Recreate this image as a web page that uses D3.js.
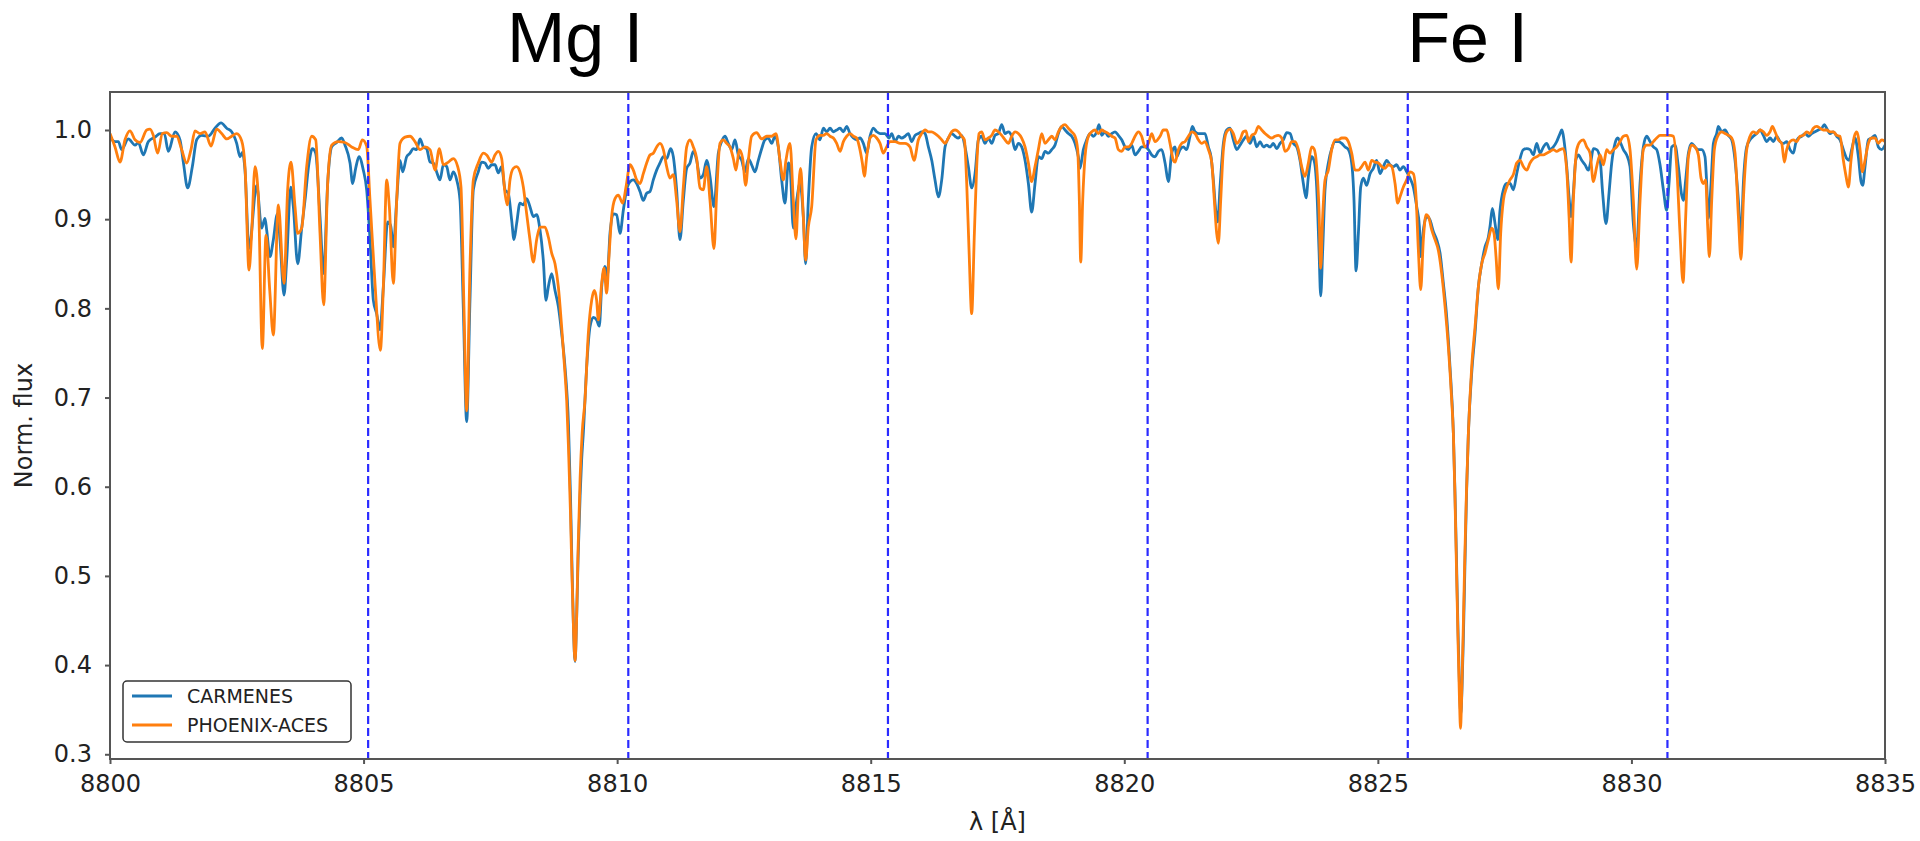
<!DOCTYPE html>
<html><head><meta charset="utf-8">
<script src="https://cdn.jsdelivr.net/npm/d3@7"></script>
<style>body{margin:0;background:#fff} svg{display:block}</style>
</head><body>
<svg id="chart" width="1920" height="841"></svg>
<script>
const xTicks = [8800,8805,8810,8815,8820,8825,8830,8835];
const yTicks = [0.3,0.4,0.5,0.6,0.7,0.8,0.9,1.0];
const markerLines = [8805.09,8810.22,8815.34,8820.46,8825.59,8830.71];
const lineLabels = [{text:"Mg I", lambda:8809.17},{text:"Fe I", lambda:8826.77}];
const seriesNames = ["CARMENES","PHOENIX-ACES"];

const carmenes = [
[8800.000,0.991],[8800.099,0.987],[8800.164,0.987],[8800.230,0.978],[8800.362,0.990],[8800.493,0.983],[8800.559,0.986],[8800.657,0.972],[8800.756,0.987],[8800.887,0.992],[8800.986,0.996],[8801.071,0.996],[8801.150,0.976],[8801.282,0.998],[8801.380,0.989],[8801.446,0.964],[8801.531,0.935],[8801.624,0.959],[8801.709,0.989],[8801.808,0.994],[8801.939,0.993],[8802.070,1.002],[8802.189,1.008],[8802.301,1.002],[8802.399,0.998],[8802.498,0.985],[8802.563,0.970],[8802.610,0.975],[8802.662,0.955],[8802.741,0.867],[8802.892,0.938],[8802.991,0.890],[8803.056,0.901],[8803.089,0.888],[8803.155,0.858],[8803.221,0.877],[8803.300,0.906],[8803.352,0.877],[8803.431,0.815],[8803.484,0.854],[8803.563,0.936],[8803.615,0.914],[8803.701,0.850],[8803.780,0.890],[8803.845,0.921],[8803.924,0.963],[8803.990,0.979],[8804.056,0.974],[8804.141,0.903],[8804.213,0.839],[8804.292,0.940],[8804.371,0.981],[8804.470,0.986],[8804.568,0.991],[8804.634,0.983],[8804.733,0.963],[8804.785,0.940],[8804.844,0.957],[8804.910,0.970],[8804.995,0.955],[8805.061,0.933],[8805.127,0.877],[8805.193,0.809],[8805.258,0.794],[8805.324,0.776],[8805.390,0.824],[8805.475,0.897],[8805.534,0.893],[8805.587,0.869],[8805.653,0.921],[8805.718,0.966],[8805.771,0.953],[8805.850,0.970],[8805.916,0.974],[8805.981,0.979],[8806.047,0.978],[8806.113,0.990],[8806.179,0.981],[8806.244,0.979],[8806.310,0.964],[8806.376,0.963],[8806.441,0.953],[8806.507,0.944],[8806.573,0.961],[8806.639,0.959],[8806.704,0.944],[8806.770,0.953],[8806.836,0.944],[8806.902,0.921],[8806.967,0.800],[8807.033,0.673],[8807.098,0.809],[8807.164,0.933],[8807.262,0.953],[8807.328,0.964],[8807.394,0.963],[8807.460,0.957],[8807.526,0.961],[8807.591,0.961],[8807.657,0.952],[8807.723,0.959],[8807.789,0.933],[8807.854,0.929],[8807.920,0.899],[8807.966,0.877],[8808.018,0.895],[8808.084,0.918],[8808.150,0.916],[8808.216,0.923],[8808.281,0.914],[8808.347,0.903],[8808.413,0.905],[8808.479,0.888],[8808.544,0.854],[8808.597,0.809],[8808.643,0.824],[8808.709,0.839],[8808.775,0.820],[8808.841,0.802],[8808.906,0.772],[8808.972,0.734],[8809.040,0.670],[8809.080,0.590],[8809.110,0.510],[8809.140,0.440],[8809.170,0.404],[8809.200,0.450],[8809.230,0.520],[8809.270,0.590],[8809.300,0.630],[8809.333,0.660],[8809.399,0.734],[8809.464,0.779],[8809.530,0.790],[8809.596,0.787],[8809.648,0.780],[8809.695,0.824],[8809.760,0.847],[8809.806,0.836],[8809.859,0.884],[8809.925,0.906],[8809.990,0.905],[8810.056,0.884],[8810.122,0.910],[8810.188,0.933],[8810.253,0.942],[8810.319,0.944],[8810.385,0.940],[8810.451,0.931],[8810.516,0.921],[8810.582,0.929],[8810.648,0.931],[8810.713,0.944],[8810.779,0.955],[8810.845,0.963],[8810.911,0.970],[8810.976,0.968],[8811.055,0.979],[8811.108,0.970],[8811.173,0.933],[8811.239,0.877],[8811.305,0.921],[8811.371,0.957],[8811.436,0.963],[8811.502,0.976],[8811.568,0.966],[8811.634,0.946],[8811.699,0.950],[8811.765,0.966],[8811.831,0.948],[8811.910,0.914],[8811.995,0.974],[8812.061,0.987],[8812.126,0.993],[8812.192,0.985],[8812.258,0.978],[8812.324,0.989],[8812.389,0.972],[8812.455,0.966],[8812.521,0.953],[8812.587,0.968],[8812.652,0.961],[8812.718,0.953],[8812.784,0.966],[8812.850,0.979],[8812.915,0.989],[8812.981,0.991],[8813.047,0.985],[8813.113,0.993],[8813.178,0.981],[8813.244,0.944],[8813.310,0.918],[8813.376,0.963],[8813.408,0.959],[8813.474,0.890],[8813.540,0.921],[8813.605,0.940],[8813.671,0.903],[8813.717,0.850],[8813.770,0.921],[8813.836,0.981],[8813.921,0.996],[8814.000,0.989],
[8814.066,1.002],[8814.132,0.998],[8814.198,1.002],[8814.264,0.998],[8814.329,1.000],[8814.395,1.002],[8814.461,0.998],[8814.526,1.004],[8814.592,0.996],[8814.658,0.991],[8814.724,0.989],[8814.789,0.991],[8814.855,0.985],[8814.921,0.974],[8814.987,0.993],[8815.052,1.002],[8815.118,0.998],[8815.184,0.996],[8815.282,0.996],[8815.361,0.991],[8815.414,0.996],[8815.480,0.987],[8815.545,0.993],[8815.611,0.991],[8815.677,0.993],[8815.742,0.996],[8815.808,0.987],[8815.874,0.994],[8815.940,0.996],[8816.005,0.998],[8816.071,0.996],[8816.137,0.981],[8816.203,0.966],[8816.268,0.944],[8816.334,0.925],[8816.400,0.944],[8816.465,0.981],[8816.531,0.991],[8816.597,0.996],[8816.663,0.993],[8816.728,0.991],[8816.794,0.994],[8816.860,0.981],[8816.925,0.959],[8816.991,0.935],[8817.057,0.951],[8817.123,0.989],[8817.188,0.993],[8817.254,0.985],[8817.320,0.991],[8817.386,0.985],[8817.451,0.994],[8817.517,0.996],[8817.583,1.006],[8817.649,0.996],[8817.714,0.998],[8817.780,0.993],[8817.846,0.978],[8817.911,0.985],[8817.977,0.981],[8818.043,0.966],[8818.109,0.940],[8818.174,0.908],[8818.240,0.940],[8818.306,0.970],[8818.372,0.968],[8818.437,0.976],[8818.503,0.974],[8818.569,0.978],[8818.634,0.983],[8818.700,0.996],[8818.766,1.004],[8818.832,1.000],[8818.897,0.996],[8818.963,0.993],[8819.029,0.985],[8819.094,0.970],[8819.127,0.957],[8819.193,0.978],[8819.259,0.989],[8819.325,0.996],[8819.391,0.993],[8819.456,0.998],[8819.502,1.006],[8819.555,0.994],[8819.620,0.998],[8819.686,0.993],[8819.752,0.996],[8819.818,0.998],[8819.883,0.994],[8819.949,0.989],[8820.015,0.981],[8820.080,0.978],[8820.146,0.983],[8820.212,0.972],[8820.278,0.976],[8820.343,0.981],[8820.409,0.981],[8820.475,0.978],[8820.541,0.972],[8820.606,0.970],[8820.672,0.976],[8820.738,0.978],[8820.804,0.963],[8820.869,0.942],[8820.935,0.974],[8821.001,0.981],
[8821.033,0.970],[8821.099,0.978],[8821.165,0.981],[8821.231,0.978],[8821.296,0.993],[8821.342,1.004],[8821.395,0.998],[8821.461,0.996],[8821.526,0.996],[8821.592,0.996],[8821.658,0.981],[8821.710,0.970],[8821.756,0.944],[8821.803,0.910],[8821.842,0.897],[8821.888,0.936],[8821.954,0.985],[8822.019,1.000],[8822.085,1.002],[8822.151,0.989],[8822.217,0.978],[8822.282,0.983],[8822.348,0.989],[8822.414,0.993],[8822.480,0.985],[8822.545,0.993],[8822.611,0.981],[8822.677,0.987],[8822.742,0.981],[8822.808,0.983],[8822.874,0.981],[8822.940,0.985],[8823.005,0.979],[8823.071,0.985],[8823.137,0.989],[8823.203,0.997],[8823.268,0.996],[8823.334,0.985],[8823.400,0.981],[8823.465,0.966],[8823.531,0.940],[8823.584,0.924],[8823.630,0.948],[8823.695,0.970],[8823.741,0.966],[8823.794,0.936],[8823.840,0.865],[8823.873,0.814],[8823.912,0.865],[8823.958,0.933],[8824.024,0.963],[8824.090,0.979],[8824.155,0.987],[8824.221,0.987],[8824.287,0.985],[8824.353,0.981],[8824.418,0.978],[8824.484,0.963],[8824.530,0.921],[8824.570,0.842],[8824.616,0.884],[8824.662,0.936],[8824.714,0.946],[8824.780,0.938],[8824.846,0.951],[8824.911,0.957],[8824.977,0.966],[8825.043,0.951],[8825.109,0.959],[8825.174,0.966],[8825.240,0.961],[8825.306,0.959],[8825.371,0.961],[8825.437,0.955],[8825.503,0.959],[8825.569,0.953],[8825.634,0.946],[8825.700,0.936],[8825.766,0.914],[8825.819,0.892],[8825.845,0.858],[8825.897,0.888],[8825.963,0.903],[8826.029,0.899],[8826.095,0.886],[8826.160,0.877],[8826.226,0.862],[8826.292,0.828],[8826.358,0.790],[8826.423,0.734],[8826.489,0.660],[8826.520,0.595],[8826.550,0.520],[8826.580,0.440],[8826.610,0.375],[8826.635,0.345],[8826.660,0.375],[8826.690,0.440],[8826.720,0.520],[8826.750,0.595],[8826.785,0.660],[8826.850,0.727],[8826.916,0.772],[8826.982,0.824],[8827.048,0.850],[8827.113,0.869],[8827.179,0.880],[8827.212,0.892],[8827.258,0.912],[8827.311,0.895],[8827.363,0.877],[8827.409,0.910],[8827.475,0.933],[8827.541,0.940],[8827.606,0.940],[8827.672,0.933],[8827.738,0.951],[8827.804,0.968],[8827.869,0.978],[8827.935,0.979],[8828.001,0.978],
[8828.066,0.972],[8828.132,0.985],[8828.198,0.974],[8828.264,0.981],[8828.329,0.985],[8828.395,0.978],[8828.461,0.981],[8828.526,0.987],[8828.592,0.996],[8828.625,1.000],[8828.678,0.985],[8828.724,0.959],[8828.770,0.925],[8828.809,0.903],[8828.855,0.929],[8828.901,0.966],[8828.954,0.972],[8829.019,0.966],[8829.085,0.961],[8829.151,0.955],[8829.203,0.966],[8829.249,0.979],[8829.315,0.978],[8829.381,0.968],[8829.433,0.929],[8829.499,0.895],[8829.558,0.929],[8829.611,0.963],[8829.677,0.985],[8829.729,0.991],[8829.775,0.987],[8829.841,0.978],[8829.907,0.972],[8829.972,0.959],[8830.038,0.895],[8830.104,0.869],[8830.170,0.940],[8830.235,0.981],[8830.301,0.993],[8830.367,0.987],[8830.433,0.981],[8830.498,0.978],[8830.564,0.961],[8830.630,0.933],[8830.695,0.910],[8830.741,0.940],[8830.794,0.981],[8830.860,0.983],[8830.925,0.959],[8830.991,0.927],[8831.024,0.921],[8831.070,0.944],[8831.123,0.974],[8831.188,0.985],[8831.254,0.981],[8831.320,0.978],[8831.386,0.978],[8831.451,0.970],[8831.484,0.940],[8831.517,0.901],[8831.570,0.940],[8831.616,0.985],[8831.681,0.996],[8831.714,1.004],[8831.780,0.998],[8831.846,1.000],[8831.911,0.994],[8831.977,0.989],[8832.043,0.966],[8832.109,0.921],[8832.161,0.877],[8832.207,0.940],[8832.273,0.981],[8832.339,0.989],[8832.404,0.993],[8832.470,0.996],[8832.536,1.000],[8832.602,0.994],[8832.667,0.987],[8832.733,0.991],[8832.799,0.987],[8832.864,0.993],[8832.930,0.987],[8832.996,0.985],[8833.062,0.987],[8833.127,0.978],[8833.193,0.974],[8833.239,0.985],[8833.292,0.991],[8833.358,0.993],[8833.423,0.996],[8833.489,0.993],[8833.555,0.996],[8833.620,0.998],[8833.686,1.000],[8833.752,1.002],[8833.804,1.006],[8833.850,1.002],[8833.916,0.996],[8833.982,0.998],[8834.048,0.993],[8834.113,0.989],[8834.179,0.978],[8834.245,0.968],[8834.291,0.966],[8834.343,0.978],[8834.409,0.991],[8834.475,0.970],[8834.528,0.942],[8834.561,0.938],[8834.606,0.959],[8834.672,0.989],[8834.738,0.991],[8834.804,0.994],[8834.869,0.981],[8834.935,0.978],[8835.001,0.983]
];

const phoenix = [
[8800.000,0.996],[8800.099,0.981],[8800.197,0.964],[8800.296,0.989],[8800.394,0.999],[8800.493,0.989],[8800.592,0.986],[8800.723,1.000],[8800.789,1.001],[8800.854,0.994],[8800.940,0.974],[8801.032,0.996],[8801.117,0.997],[8801.216,0.993],[8801.315,0.993],[8801.413,0.978],[8801.512,0.963],[8801.597,0.978],[8801.676,0.999],[8801.775,0.996],[8801.873,0.998],[8801.992,0.982],[8802.103,1.001],[8802.202,0.996],[8802.301,0.990],[8802.399,0.993],[8802.498,0.996],[8802.596,0.988],[8802.662,0.959],[8802.741,0.843],[8802.793,0.884],[8802.859,0.959],[8802.925,0.925],[8803.004,0.755],[8803.076,0.882],[8803.150,0.820],[8803.221,0.770],[8803.319,0.916],[8803.431,0.828],[8803.503,0.933],[8803.569,0.964],[8803.648,0.914],[8803.701,0.884],[8803.780,0.890],[8803.878,0.959],[8803.977,0.993],[8804.056,0.989],[8804.141,0.884],[8804.213,0.804],[8804.292,0.940],[8804.371,0.983],[8804.502,0.987],[8804.634,0.986],[8804.765,0.981],[8804.897,0.978],[8804.976,0.989],[8805.061,0.982],[8805.127,0.921],[8805.225,0.828],[8805.331,0.753],[8805.390,0.824],[8805.456,0.944],[8805.508,0.914],[8805.587,0.828],[8805.653,0.921],[8805.718,0.985],[8805.817,0.992],[8805.916,0.993],[8806.014,0.987],[8806.113,0.978],[8806.211,0.981],[8806.310,0.978],[8806.409,0.955],[8806.494,0.979],[8806.573,0.961],[8806.672,0.964],[8806.770,0.968],[8806.856,0.959],[8806.921,0.936],[8806.980,0.800],[8807.033,0.685],[8807.098,0.846],[8807.164,0.944],[8807.262,0.963],[8807.361,0.974],[8807.427,0.972],[8807.526,0.964],[8807.591,0.972],[8807.657,0.976],[8807.723,0.968],[8807.789,0.929],[8807.834,0.916],[8807.887,0.944],[8807.953,0.957],[8808.018,0.959],[8808.084,0.953],[8808.150,0.936],[8808.216,0.906],[8808.281,0.877],[8808.347,0.852],[8808.413,0.877],[8808.479,0.891],[8808.577,0.891],[8808.643,0.880],[8808.709,0.862],[8808.775,0.850],[8808.841,0.824],[8808.906,0.779],[8808.972,0.727],[8809.005,0.697],[8809.040,0.645],[8809.080,0.570],[8809.110,0.500],[8809.140,0.440],[8809.170,0.405],[8809.200,0.450],[8809.230,0.530],[8809.270,0.610],[8809.310,0.660],[8809.366,0.697],[8809.432,0.772],[8809.498,0.809],[8809.550,0.820],[8809.596,0.809],[8809.629,0.787],[8809.695,0.828],[8809.741,0.845],[8809.793,0.817],[8809.839,0.858],[8809.892,0.903],[8809.958,0.923],[8810.023,0.927],[8810.109,0.918],[8810.175,0.936],[8810.253,0.961],[8810.319,0.955],[8810.385,0.944],[8810.451,0.940],[8810.516,0.951],[8810.582,0.963],[8810.648,0.972],[8810.713,0.974],[8810.779,0.981],[8810.845,0.985],[8810.911,0.978],[8810.976,0.959],[8811.042,0.946],[8811.108,0.950],[8811.173,0.921],[8811.239,0.886],[8811.305,0.936],[8811.371,0.981],[8811.436,0.989],[8811.502,0.981],[8811.568,0.968],[8811.634,0.935],[8811.699,0.933],[8811.765,0.959],[8811.831,0.921],[8811.910,0.867],[8811.962,0.929],[8812.028,0.985],[8812.094,0.989],[8812.159,0.985],[8812.225,0.981],[8812.291,0.968],[8812.343,0.955],[8812.409,0.978],[8812.475,0.968],[8812.534,0.938],[8812.587,0.966],[8812.652,0.993],[8812.751,0.997],[8812.850,0.990],[8812.948,0.993],[8813.047,0.993],[8813.132,0.996],[8813.211,0.966],[8813.277,0.944],[8813.329,0.966],[8813.408,0.985],[8813.474,0.921],[8813.526,0.878],[8813.572,0.929],[8813.618,0.957],[8813.671,0.903],[8813.717,0.854],[8813.770,0.891],[8813.836,0.914],[8813.921,0.989],[8814.000,0.994],
[8814.066,0.994],[8814.132,0.996],[8814.198,0.993],[8814.264,0.991],[8814.329,0.985],[8814.395,0.976],[8814.461,0.987],[8814.526,0.993],[8814.592,0.996],[8814.658,0.993],[8814.724,0.991],[8814.776,0.981],[8814.835,0.963],[8814.875,0.948],[8814.921,0.970],[8814.987,0.991],[8815.052,0.994],[8815.118,0.991],[8815.184,0.985],[8815.249,0.974],[8815.315,0.981],[8815.381,0.987],[8815.480,0.987],[8815.578,0.985],[8815.677,0.985],[8815.775,0.981],[8815.854,0.966],[8815.940,0.989],[8816.005,0.996],[8816.071,1.000],[8816.137,0.998],[8816.203,0.998],[8816.268,0.996],[8816.334,0.993],[8816.400,0.989],[8816.465,0.985],[8816.531,0.991],[8816.597,0.998],[8816.663,1.000],[8816.728,0.998],[8816.794,0.993],[8816.847,0.989],[8816.893,0.940],[8816.939,0.865],[8816.991,0.794],[8817.044,0.884],[8817.090,0.959],[8817.136,0.996],[8817.188,0.998],[8817.254,0.989],[8817.320,0.991],[8817.386,0.994],[8817.451,1.000],[8817.517,0.998],[8817.583,0.994],[8817.649,0.989],[8817.714,0.985],[8817.780,0.993],[8817.846,0.998],[8817.911,0.996],[8817.977,0.991],[8818.043,0.981],[8818.109,0.963],[8818.174,0.942],[8818.240,0.959],[8818.306,0.978],[8818.372,0.996],[8818.437,0.985],[8818.503,0.989],[8818.569,0.993],[8818.634,0.989],[8818.700,0.998],[8818.766,1.004],[8818.832,1.006],[8818.897,1.002],[8818.963,0.998],[8819.029,0.993],[8819.081,0.978],[8819.114,0.921],[8819.141,0.852],[8819.180,0.921],[8819.226,0.970],[8819.292,0.993],[8819.358,0.998],[8819.423,1.000],[8819.489,0.996],[8819.555,1.000],[8819.620,0.998],[8819.686,0.996],[8819.752,0.993],[8819.818,0.991],[8819.883,0.978],[8819.949,0.976],[8820.015,0.981],[8820.080,0.981],[8820.146,0.985],[8820.212,0.993],[8820.278,0.998],[8820.343,0.993],[8820.409,0.981],[8820.475,0.985],[8820.541,0.996],[8820.606,0.987],[8820.705,0.993],[8820.771,1.000],[8820.837,1.000],[8820.902,0.985],[8820.968,0.966],
[8821.001,0.964],[8821.066,0.978],[8821.132,0.985],[8821.198,0.987],[8821.264,0.993],[8821.329,0.998],[8821.395,0.996],[8821.461,0.989],[8821.526,0.985],[8821.592,0.987],[8821.658,0.978],[8821.724,0.964],[8821.776,0.921],[8821.822,0.884],[8821.855,0.873],[8821.901,0.921],[8821.954,0.978],[8822.019,0.998],[8822.085,1.001],[8822.151,0.996],[8822.217,0.985],[8822.282,0.989],[8822.348,0.998],[8822.401,0.999],[8822.447,0.987],[8822.512,0.994],[8822.578,0.996],[8822.644,1.004],[8822.710,1.000],[8822.775,0.996],[8822.841,0.993],[8822.907,0.991],[8822.972,0.993],[8823.038,0.994],[8823.104,0.991],[8823.170,0.976],[8823.235,0.979],[8823.301,0.987],[8823.367,0.987],[8823.433,0.978],[8823.498,0.959],[8823.564,0.948],[8823.630,0.963],[8823.695,0.981],[8823.741,0.979],[8823.794,0.959],[8823.840,0.910],[8823.873,0.845],[8823.912,0.903],[8823.958,0.944],[8824.024,0.955],[8824.090,0.978],[8824.155,0.989],[8824.221,0.989],[8824.287,0.991],[8824.353,0.991],[8824.418,0.987],[8824.484,0.974],[8824.550,0.955],[8824.616,0.955],[8824.681,0.959],[8824.747,0.964],[8824.813,0.955],[8824.879,0.966],[8824.944,0.964],[8825.010,0.963],[8825.076,0.959],[8825.141,0.957],[8825.207,0.961],[8825.273,0.959],[8825.339,0.940],[8825.391,0.918],[8825.437,0.925],[8825.503,0.936],[8825.569,0.944],[8825.634,0.953],[8825.700,0.951],[8825.753,0.925],[8825.799,0.865],[8825.845,0.821],[8825.897,0.877],[8825.950,0.905],[8825.996,0.903],[8826.062,0.888],[8826.127,0.877],[8826.193,0.865],[8826.259,0.839],[8826.325,0.802],[8826.390,0.757],[8826.456,0.697],[8826.489,0.660],[8826.520,0.590],[8826.550,0.510],[8826.580,0.430],[8826.610,0.360],[8826.630,0.329],[8826.650,0.360],[8826.680,0.430],[8826.710,0.510],[8826.745,0.590],[8826.785,0.660],[8826.850,0.734],[8826.916,0.779],[8826.982,0.824],[8827.048,0.850],[8827.113,0.862],[8827.179,0.877],[8827.245,0.890],[8827.291,0.884],[8827.330,0.858],[8827.376,0.822],[8827.422,0.884],[8827.475,0.921],[8827.541,0.936],[8827.606,0.944],[8827.672,0.950],[8827.738,0.963],[8827.804,0.966],[8827.869,0.959],[8827.935,0.955],[8828.001,0.963],
[8828.066,0.968],[8828.132,0.970],[8828.198,0.972],[8828.264,0.972],[8828.329,0.974],[8828.395,0.976],[8828.461,0.978],[8828.526,0.976],[8828.592,0.978],[8828.658,0.979],[8828.724,0.955],[8828.770,0.903],[8828.809,0.852],[8828.855,0.921],[8828.921,0.978],[8828.987,0.987],[8829.052,0.989],[8829.118,0.981],[8829.184,0.974],[8829.249,0.942],[8829.315,0.959],[8829.381,0.972],[8829.447,0.961],[8829.512,0.978],[8829.578,0.974],[8829.644,0.978],[8829.710,0.981],[8829.775,0.987],[8829.841,0.993],[8829.907,0.994],[8829.972,0.978],[8830.038,0.921],[8830.104,0.844],[8830.170,0.921],[8830.235,0.978],[8830.301,0.983],[8830.367,0.983],[8830.433,0.987],[8830.498,0.991],[8830.564,0.994],[8830.630,0.994],[8830.695,0.994],[8830.761,0.994],[8830.827,0.993],[8830.893,0.959],[8830.958,0.884],[8831.018,0.829],[8831.070,0.903],[8831.123,0.970],[8831.188,0.983],[8831.254,0.981],[8831.320,0.972],[8831.373,0.946],[8831.418,0.940],[8831.464,0.944],[8831.504,0.891],[8831.537,0.858],[8831.583,0.921],[8831.635,0.978],[8831.701,0.993],[8831.780,0.998],[8831.846,0.996],[8831.911,0.994],[8831.977,0.991],[8832.043,0.974],[8832.109,0.903],[8832.161,0.855],[8832.207,0.921],[8832.273,0.978],[8832.339,0.993],[8832.404,0.998],[8832.470,0.996],[8832.536,1.000],[8832.602,0.998],[8832.667,0.994],[8832.733,0.998],[8832.779,1.004],[8832.832,0.998],[8832.897,0.989],[8832.963,0.985],[8833.016,0.964],[8833.062,0.978],[8833.127,0.987],[8833.193,0.989],[8833.259,0.987],[8833.325,0.993],[8833.390,0.994],[8833.456,0.998],[8833.522,0.996],[8833.587,1.002],[8833.653,1.004],[8833.719,1.002],[8833.785,1.000],[8833.850,1.000],[8833.916,0.998],[8833.982,0.998],[8834.048,0.994],[8834.113,0.993],[8834.179,0.966],[8834.232,0.948],[8834.278,0.936],[8834.330,0.966],[8834.396,0.993],[8834.442,0.998],[8834.508,0.978],[8834.554,0.953],[8834.606,0.966],[8834.672,0.985],[8834.738,0.991],[8834.804,0.991],[8834.869,0.985],[8834.935,0.989],[8835.001,0.987]
];

const colors = ["#1f77b4","#ff7f0e"];
const svg = d3.select("#chart");
const L = 110, R = 1885, T = 92, B = 759;
const x = d3.scaleLinear().domain([8800,8835]).range([L,R]);
const y = d3.scaleLinear().domain([0.2947,1.0426]).range([B,T]);
const tickFont = "'DejaVu Sans', Verdana, sans-serif";

svg.append("defs").append("clipPath").attr("id","clip")
  .append("rect").attr("x",L).attr("y",T).attr("width",R-L).attr("height",B-T);

const line = d3.line().x(d=>x(d[0])).y(d=>y(d[1])).curve(d3.curveMonotoneX);
const g = svg.append("g").attr("clip-path","url(#clip)");
[carmenes, phoenix].forEach((s,i)=>{
  g.append("path").datum(s).attr("d",line).attr("fill","none")
   .attr("stroke",colors[i]).attr("stroke-width",2.8).attr("stroke-linejoin","round");
});
g.selectAll(".vline").data(markerLines).enter().append("line")
  .attr("x1",d=>x(d)).attr("x2",d=>x(d)).attr("y1",T).attr("y2",B)
  .attr("stroke","#2b2bff").attr("stroke-width",2.2).attr("stroke-dasharray","8,4");

// axes
const xAxis = svg.append("g").attr("transform",`translate(0,${B})`)
  .call(d3.axisBottom(x).tickValues(xTicks).tickFormat(d3.format("d")).tickSize(5).tickPadding(11));
const yAxis = svg.append("g").attr("transform",`translate(${L},0)`)
  .call(d3.axisLeft(y).tickValues(yTicks).tickFormat(d3.format(".1f")).tickSize(5).tickPadding(13));
[xAxis,yAxis].forEach(a=>{
  a.select(".domain").remove();
  a.selectAll(".tick line").attr("stroke","#555").attr("stroke-width",2);
  a.selectAll(".tick text").attr("fill","#222").style("font-family",tickFont).style("font-size","24px");
});
svg.append("rect").attr("x",L).attr("y",T).attr("width",R-L).attr("height",B-T)
  .attr("fill","none").attr("stroke","#555").attr("stroke-width",2);

// axis labels
svg.append("text").attr("x",(L+R)/2).attr("y",830).attr("text-anchor","middle")
  .style("font-family",tickFont).style("font-size","24px").attr("fill","#222").text("λ [Å]");
svg.append("text").attr("transform",`translate(32,${(T+B)/2}) rotate(-90)`).attr("text-anchor","middle")
  .style("font-family",tickFont).style("font-size","24px").attr("fill","#222").text("Norm. flux");

// element labels
svg.selectAll(".elabel").data(lineLabels).enter().append("text")
  .attr("x",d=>x(d.lambda)).attr("y",62).attr("text-anchor","middle")
  .style("font-family","'Liberation Sans', Arial, sans-serif").style("font-size","70px")
  .attr("fill","#000").text(d=>d.text);

// legend
const lg = svg.append("g");
lg.append("rect").attr("x",123).attr("y",681).attr("width",228).attr("height",61).attr("rx",4)
  .attr("fill","#fff").attr("fill-opacity",0.85).attr("stroke","#333").attr("stroke-width",1.5);
seriesNames.forEach((n,i)=>{
  const yy = 696 + i*29;
  lg.append("line").attr("x1",132).attr("x2",172).attr("y1",yy).attr("y2",yy)
    .attr("stroke",colors[i]).attr("stroke-width",2.8);
  lg.append("text").attr("x",187).attr("y",yy).attr("dy","0.36em")
    .style("font-family",tickFont).style("font-size","19px").attr("fill","#222").text(n);
});
</script>
</body></html>
